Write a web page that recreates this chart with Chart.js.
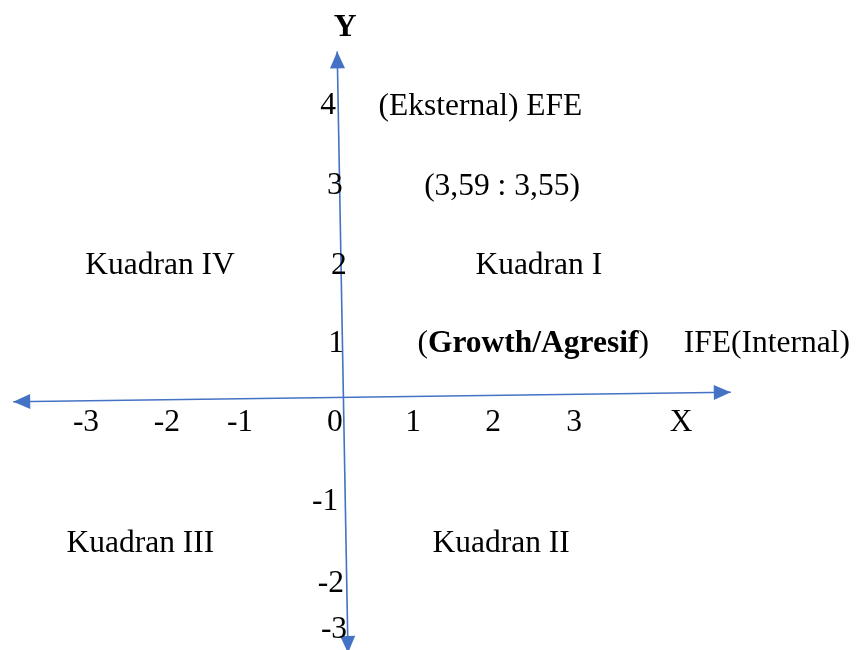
<!DOCTYPE html>
<html>
<head>
<meta charset="utf-8">
<script src="https://cdn.jsdelivr.net/npm/chart.js@4"></script>
<style>
  html, body { margin: 0; padding: 0; background: #fff; }
  #wrap { width: 858px; height: 650px; }
</style>
</head>
<body>
<div id="wrap"><canvas id="quadrantChart"></canvas></div>
<script>
// Data for the chart
const xTickLabels = ["-3", "-2", "-1", "0", "1", "2", "3"];
const yTickLabels = ["4", "3", "2", "1", "-1", "-2", "-3"];
const quadrantNames = ["Kuadran I", "Kuadran II", "Kuadran III", "Kuadran IV"];
const ifeScore = 3.59;
const efeScore = 3.55;

// where things sit, in chart units (origin = where the two axes cross)
const xTickPos = [[-3.2, -0.32], [-2.19, -0.32], [-1.275, -0.32], [-0.09, -0.32], [0.89, -0.32], [1.89, -0.32], [2.9, -0.32]];
const yTickPos = [[-0.175, 3.645], [-0.09, 2.645], [-0.04, 1.645], [-0.075, 0.67], [-0.21, -1.305], [-0.14, -2.33], [-0.1, -2.905]];
const quadrantPos = [[2.46, 1.645], [1.99, -1.83], [-2.52, -1.83], [-2.275, 1.645]];
const xAxisEnds = [{ x: -4.11, y: -0.06 }, { x: 4.86, y: 0.06 }];
const yAxisEnds = [{ x: 0.075, y: -3.2 }, { x: -0.06, y: 4.32 }];

const blue = "#4472C4";
const serif = "'Liberation Serif', 'Times New Roman', serif";
const fontSize = 31.5;

const fmt = v => v.toFixed(2).replace(".", ",");

// free text placed on the chart
const notes = [
  { parts: [["Y", true]], x: 0.04, y: 4.62 },
  { parts: [["X", false]], x: 4.24, y: -0.32 },
  { parts: [["(Eksternal) EFE", false]], x: 1.73, y: 3.63 },
  { parts: [["(" + fmt(ifeScore) + " : " + fmt(efeScore) + ")", false]], x: 2.0, y: 2.63 },
  { parts: [["(", false], ["Growth/Agresif", true], [")", false]], x: 2.39, y: 0.67 },
  { parts: [["IFE(Internal)", false]], x: 5.31, y: 0.67 }
];
xTickLabels.forEach((t, i) => notes.push({ parts: [[t, false]], x: xTickPos[i][0], y: xTickPos[i][1] }));
yTickLabels.forEach((t, i) => notes.push({ parts: [[t, false]], x: yTickPos[i][0], y: yTickPos[i][1] }));
quadrantNames.forEach((t, i) => notes.push({ parts: [[t, false]], x: quadrantPos[i][0], y: quadrantPos[i][1] }));

const arrowHeads = {
  id: "arrowHeads",
  afterDatasetsDraw(chart) {
    const { ctx, scales } = chart;
    [xAxisEnds, yAxisEnds].forEach(ends => {
      const p = ends.map(e => [scales.x.getPixelForValue(e.x), scales.y.getPixelForValue(e.y)]);
      [[p[0], p[1]], [p[1], p[0]]].forEach(([tip, from]) => {
        const a = Math.atan2(tip[1] - from[1], tip[0] - from[0]);
        const len = 17, half = 7.5;
        ctx.save();
        ctx.translate(tip[0], tip[1]);
        ctx.rotate(a);
        ctx.beginPath();
        ctx.moveTo(0, 0);
        ctx.lineTo(-len, -half);
        ctx.lineTo(-len, half);
        ctx.closePath();
        ctx.fillStyle = blue;
        ctx.fill();
        ctx.restore();
      });
    });
  }
};

const textNotes = {
  id: "textNotes",
  afterDraw(chart) {
    const { ctx, scales } = chart;
    ctx.save();
    ctx.fillStyle = "#000";
    ctx.textBaseline = "middle";
    ctx.textAlign = "left";
    notes.forEach(n => {
      const widths = n.parts.map(([t, b]) => {
        ctx.font = (b ? "bold " : "") + fontSize + "px " + serif;
        return ctx.measureText(t).width;
      });
      const total = widths.reduce((s, w) => s + w, 0);
      let x = scales.x.getPixelForValue(n.x) - total / 2;
      const y = scales.y.getPixelForValue(n.y);
      n.parts.forEach(([t, b], i) => {
        ctx.font = (b ? "bold " : "") + fontSize + "px " + serif;
        ctx.fillText(t, x, y);
        x += widths[i];
      });
    });
    ctx.restore();
  }
};

const config = {
  type: "scatter",
  data: {
    datasets: [
      { data: xAxisEnds, showLine: true, borderColor: blue, borderWidth: 1.6, pointRadius: 0 },
      { data: yAxisEnds, showLine: true, borderColor: blue, borderWidth: 1.6, pointRadius: 0 }
    ]
  },
  options: {
    responsive: true,
    maintainAspectRatio: false,
    animation: false,
    layout: { padding: 0 },
    scales: {
      x: { type: "linear", display: false, min: -4.275, max: 6.45 },
      y: { type: "linear", display: false, min: -3.1625, max: 4.9625 }
    },
    plugins: { legend: { display: false }, tooltip: { enabled: false } }
  },
  plugins: [arrowHeads, textNotes]
};

window.addEventListener("DOMContentLoaded", () => {
  new Chart(document.getElementById("quadrantChart"), config);
});
</script>
</body>
</html>
